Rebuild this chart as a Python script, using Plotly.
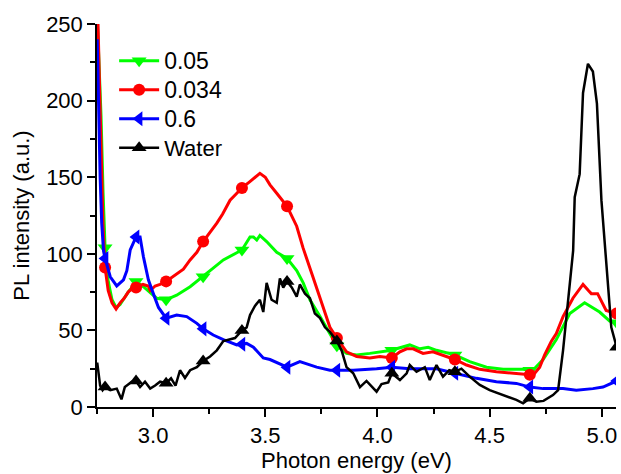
import plotly.graph_objects as go

# ---------------- data ----------------
marker_x = [2.786, 2.924, 3.058, 3.223, 3.396, 3.597, 3.819, 4.064, 4.345, 4.679, 5.066]

x_005 = [2.752, 2.768, 2.777, 2.786, 2.800, 2.817, 2.835, 2.853, 2.871, 2.889, 2.911, 2.924,
         2.957, 2.987, 3.016, 3.058, 3.105, 3.165, 3.223, 3.254, 3.313, 3.396, 3.432, 3.447,
         3.462, 3.476, 3.506, 3.551, 3.597, 3.640, 3.669, 3.699, 3.744, 3.788, 3.819, 3.862,
         3.907, 3.966, 4.025, 4.064, 4.085, 4.144, 4.189, 4.226, 4.263, 4.345, 4.411, 4.486,
         4.560, 4.649, 4.679, 4.693, 4.738, 4.797, 4.857, 4.923, 4.990, 5.035, 5.066]
y_005 = [250, 190, 140, 104, 82, 70, 65, 67, 71, 75, 79, 82,
         78.5, 74.4, 71, 70, 73, 78.5, 85, 89, 96, 102.5, 111, 111,
         109, 112, 108, 101, 97, 89, 81, 70, 59, 48, 40, 35,
         34, 35, 36, 37, 38, 40.5, 38, 39, 37, 34, 29.6, 26,
         24.6, 24.6, 24, 24, 31, 44, 61, 68, 62, 56, 55]

x_0034 = [2.752, 2.760, 2.768, 2.777, 2.786, 2.800, 2.817, 2.835, 2.853, 2.871, 2.889, 2.911,
          2.924, 2.942, 2.955, 2.978, 2.987, 3.009, 3.031, 3.058, 3.105, 3.135, 3.165, 3.195,
          3.223, 3.250, 3.284, 3.310, 3.343, 3.370, 3.396, 3.430, 3.462, 3.476, 3.500, 3.521,
          3.551, 3.597, 3.640, 3.668, 3.712, 3.751, 3.788, 3.819, 3.862, 3.907, 3.966, 4.011,
          4.064, 4.100, 4.130, 4.159, 4.203, 4.247, 4.308, 4.345, 4.397, 4.456, 4.530, 4.604,
          4.679, 4.701, 4.723, 4.745, 4.775, 4.797, 4.827, 4.871, 4.916, 4.940, 4.953, 4.981,
          5.019, 5.066]
y_0034 = [265, 220, 168, 118, 91, 76, 68, 64, 68, 71, 75, 78,
          78, 79, 80, 79, 76, 79, 80, 82, 87, 90, 96, 101,
          108, 113, 120, 126, 135, 139, 143, 147, 151, 152.5, 150, 145,
          139.5, 131, 118, 104, 85, 68, 52, 45, 36, 33, 32, 33,
          32, 36, 38, 38, 35, 36, 33, 31, 27.4, 24.6, 23, 22,
          21, 22, 26, 34, 43, 48, 59, 71, 80, 76, 74, 74,
          63, 61]

x_06 = [2.751, 2.756, 2.764, 2.771, 2.779, 2.786, 2.809, 2.838, 2.868, 2.883, 2.898, 2.924,
        2.942, 2.957, 2.979, 3.001, 3.024, 3.058, 3.105, 3.150, 3.195, 3.223, 3.268, 3.313,
        3.373, 3.396, 3.417, 3.447, 3.491, 3.521, 3.597, 3.654, 3.729, 3.788, 3.819, 3.892,
        3.996, 4.064, 4.144, 4.263, 4.345, 4.441, 4.530, 4.619, 4.679, 4.738, 4.827, 4.886,
        4.960, 5.005, 5.066]
y_06 = [240, 194, 150, 120, 102, 97, 85, 79, 83, 89, 102.5, 111,
        111, 98, 83, 74, 65, 58, 60, 59, 54.6, 51, 47, 44,
        40.5, 41, 41.5, 39, 32, 31, 26, 29.6, 26, 24, 24, 24,
        25, 26, 25, 25, 22, 18.7, 16.5, 15.4, 13, 12, 12, 11,
        12, 13, 17]

x_water = [2.751, 2.757, 2.764, 2.775, 2.786, 2.809, 2.838, 2.859, 2.874, 2.883, 2.905, 2.924,
           2.942, 2.964, 2.987, 3.009, 3.031, 3.058, 3.080, 3.100, 3.120, 3.142, 3.165, 3.195,
           3.223, 3.254, 3.284, 3.313, 3.343, 3.365, 3.396, 3.417, 3.432, 3.454, 3.476, 3.491,
           3.506, 3.528, 3.551, 3.565, 3.580, 3.597, 3.618, 3.640, 3.654, 3.677, 3.699, 3.721,
           3.744, 3.766, 3.788, 3.819, 3.840, 3.862, 3.892, 3.922, 3.951, 3.981, 3.996, 4.018,
           4.048, 4.064, 4.100, 4.130, 4.144, 4.174, 4.211, 4.233, 4.263, 4.292, 4.320, 4.345,
           4.374, 4.411, 4.456, 4.500, 4.560, 4.619, 4.649, 4.679, 4.708, 4.740, 4.782, 4.805,
           4.827, 4.857, 4.872, 4.879, 4.901, 4.916, 4.938, 4.960, 4.978, 4.998, 5.020, 5.042,
           5.066]
y_water = [29, 22, 14, 11, 13, 11, 12, 5, 13, 14, 16.5, 17,
           13, 16.5, 12, 14, 16.5, 15.5, 18.7, 14, 24, 19, 24, 26,
           30, 33, 37, 43, 44, 45, 50, 52, 60, 66, 70, 62,
           81, 70, 68, 84, 78, 82, 78, 72, 80, 74, 71, 61,
           58, 52, 49, 43, 37, 26, 22, 13, 17, 12, 10, 15,
           16, 22, 17.6, 22, 27.4, 23, 26, 17.6, 27.4, 19.8, 24, 23,
           25, 19.8, 14.4, 11, 7.8, 4.6, 2.4, 5.7, 3.5, 4, 7.8, 11,
           37, 81, 102, 137, 152, 205, 224, 219, 198, 135, 94, 52,
           39]

series_names = ["0.05", "0.034", "0.6", "Water"]
series_x = [x_005, x_0034, x_06, x_water]
series_y = [y_005, y_0034, y_06, y_water]
series_colors = ["#00ff00", "#ff0000", "#0000ff", "#000000"]
series_symbols = ["triangle-down", "circle", "triangle-left", "triangle-up"]
series_widths = [3, 3, 3, 2.5]
series_msize = [13, 12, 13, 13]
legend_text_size = [23, 23, 23, 22]

FONT = "Liberation Sans, Arial, sans-serif"

fig = go.Figure()
for name, xs, ys, col, sym, lw, ms, fs in zip(series_names, series_x, series_y, series_colors,
                                              series_symbols, series_widths, series_msize,
                                              legend_text_size):
    fig.add_trace(go.Scatter(x=xs, y=ys, mode="lines", line=dict(color=col, width=lw),
                             showlegend=False, hoverinfo="skip"))
    idx = [xs.index(m) for m in marker_x]
    fig.add_trace(go.Scatter(x=[xs[i] for i in idx], y=[ys[i] for i in idx], mode="markers",
                             marker=dict(symbol=sym, size=ms, color=col, line=dict(width=0)),
                             showlegend=False, hoverinfo="skip"))
    fig.add_trace(go.Scatter(x=[None], y=[None], mode="lines+markers",
                             name=f'<span style="font-size:{fs}px">{name}</span>',
                             line=dict(color=col, width=lw),
                             marker=dict(symbol=sym, size=ms, color=col, line=dict(width=0))))

axis_common = dict(showline=True, linecolor="black", linewidth=1.5, ticks="outside",
                   ticklen=8, tickwidth=1.5, tickcolor="black", showgrid=False, zeroline=False,
                   tickfont=dict(family=FONT, size=22, color="black"),
                   title_font=dict(family=FONT, size=22, color="black"))

fig.update_xaxes(range=[2.75, 5.063], tickvals=[3.0, 3.5, 4.0, 4.5, 5.0],
                 ticktext=["3.0", "3.5", "4.0", "4.5", "5.0"],
                 minor=dict(dtick=0.25, tick0=2.75, ticks="outside", ticklen=5,
                            tickwidth=1.5, tickcolor="black"),
                 title_text="Photon energy (eV)", title_standoff=4, **axis_common)
fig.update_yaxes(range=[0, 250], tickvals=[0, 50, 100, 150, 200, 250],
                 minor=dict(dtick=25, tick0=0, ticks="outside", ticklen=5,
                            tickwidth=1.5, tickcolor="black"),
                 title_text="PL intensity (a.u.)", title_standoff=10, **axis_common)

fig.update_layout(
    width=621, height=474,
    margin=dict(l=97, r=5, t=24, b=67),
    paper_bgcolor="white", plot_bgcolor="white",
    font=dict(family=FONT, size=22, color="black"),
    legend=dict(x=0.033, y=0.955, xanchor="left", yanchor="top", bgcolor="rgba(0,0,0,0)",
                font=dict(family=FONT, size=20, color="black"), itemwidth=40,
                tracegroupgap=0),
)

fig.write_html("out.html")
